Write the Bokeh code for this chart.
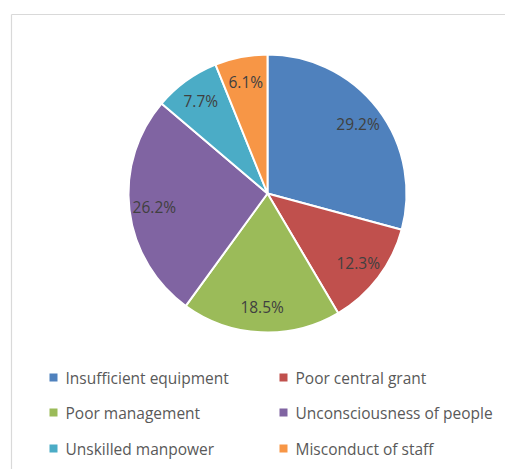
import numpy as np
from bokeh.plotting import figure
from bokeh.models import Range1d, ColumnDataSource
from bokeh.core.properties import value
from bokeh.embed import file_html
from bokeh.resources import INLINE

categories = ["Insufficient equipment", "Poor central grant", "Poor management",
              "Unconsciousness of people", "Unskilled manpower", "Misconduct of staff"]
shares = [29.2, 12.3, 18.5, 26.2, 7.7, 6.1]
labels = ["29.2%", "12.3%", "18.5%", "26.2%", "7.7%", "6.1%"]
colors = ["#4F81BD", "#C0504D", "#9BBB59", "#8064A2", "#4BACC6", "#F79646"]

W, H = 505, 469
p = figure(width=W, height=H, x_range=Range1d(0, W), y_range=Range1d(0, H),
           output_backend="svg", toolbar_location=None, min_border=0)
p.axis.visible = False
p.grid.visible = False
p.outline_line_color = None
p.background_fill_color = "white"
p.border_fill_color = "white"

# chart frame (left and top edges)
p.segment(x0=[11, 11], y0=[H - 14, H - 14], x1=[11, W], y1=[0, H - 14],
          line_color="#D9D9D9", line_width=1.2)

cx, cy, r = 267, H - 193, 139
vals = np.array(shares, dtype=float)
frac = vals / vals.sum()
cum = np.concatenate([[0], np.cumsum(frac)])
start = np.pi / 2 - 2 * np.pi * cum[:-1]
end = np.pi / 2 - 2 * np.pi * cum[1:]
mid = (start + end) / 2
lr = 0.82 * r
src = ColumnDataSource(dict(start=start, end=end, color=colors,
                            lx=cx + lr * np.cos(mid), ly=cy + lr * np.sin(mid),
                            label=labels))
p.wedge(x=cx, y=cy, radius=r, start_angle="start", end_angle="end",
        direction="clock", fill_color="color", line_color="white",
        line_width=2, source=src)
p.text(x="lx", y="ly", text="label", source=src, text_align="center",
       text_baseline="middle", text_font=value("Open Sans"),
       text_font_size="15.5px", text_color="#404040")

# legend (2 columns x 3 rows)
col_x = [53, 283]
row_y = [377, 412, 448]
lx = [col_x[i % 2] for i in range(len(categories))]
ly = [H - row_y[i // 2] for i in range(len(categories))]
lsrc = ColumnDataSource(dict(x=lx, y=ly, tx=[x + 12 for x in lx], name=categories,
                             color=colors))
p.scatter(x="x", y="y", marker="square", size=8, fill_color="color",
          line_color=None, source=lsrc)
p.text(x="tx", y="y", text="name", source=lsrc, text_align="left",
       text_baseline="middle", text_font=value("Open Sans"),
       text_font_size="15.5px", text_color="#595959")

open("out.html", "w").write(file_html(p, INLINE))
